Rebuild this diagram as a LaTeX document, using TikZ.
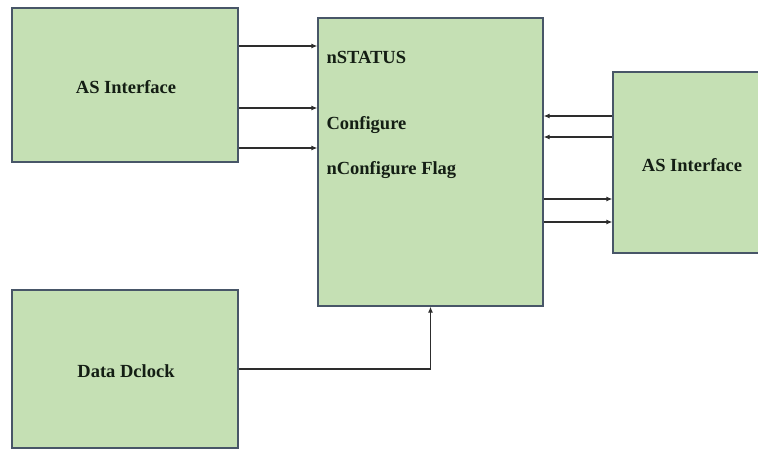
\documentclass[tikz,border=0pt]{standalone}
\usepackage{fontspec}
\setmainfont{Liberation Serif}
\usetikzlibrary{arrows.meta}
\definecolor{boxfill}{RGB}{197,224,180}
\definecolor{boxline}{RGB}{72,86,104}
\definecolor{wire}{RGB}{45,45,45}
\definecolor{ink}{RGB}{20,30,20}
\begin{document}
\begin{tikzpicture}[x=1pt,y=-1pt,
  block/.style={draw=boxline,fill=boxfill,line width=1.2pt,inner sep=0pt,
    minimum width=#1},
  lbl/.style={font=\fontsize{18.5}{22}\selectfont\bfseries,text=ink},
  sig/.style={draw=wire,line width=1.3pt,-{Latex[length=6pt,width=5pt]}}]
\useasboundingbox (0,0) rectangle (758,450);
% blocks
\node[block=226pt,minimum height=154pt] (asl) at (125,85) {};
\node[block=226pt,minimum height=158pt] (dcl) at (125,369) {};
\node[block=225pt,minimum height=288pt] (ctl) at (430.5,162) {};
\node[block=147pt,minimum height=181pt] (asr) at (686.5,162.5) {};
% labels
\node[lbl] (aslt) at (126,87) {AS Interface};
\node[lbl] (dclt) at (126,371) {Data Dclock};
\node[lbl] (asrt) at (692,165) {AS Interface};
\node[lbl,anchor=west] (nst) at (323,57) {nSTATUS};
\node[lbl,anchor=west] (cfg) at (323,125) {Configure};
\node[lbl,anchor=west] (ncf) at (323,170) {nConfigure Flag};
% signals
\draw[sig] (asl.east |- 0,46)  -- (ctl.west |- 0,46);
\draw[sig] (asl.east |- 0,108) -- (ctl.west |- 0,108);
\draw[sig] (asl.east |- 0,148) -- (ctl.west |- 0,148);
\draw[sig] (asr.west |- 0,116) -- (ctl.east |- 0,116);
\draw[sig] (asr.west |- 0,137) -- (ctl.east |- 0,137);
\draw[sig] (ctl.east |- 0,199) -- (asr.west |- 0,199);
\draw[sig] (ctl.east |- 0,222) -- (asr.west |- 0,222);
\draw[sig] (dcl.east) -| (ctl.south);
\end{tikzpicture}
\end{document}
